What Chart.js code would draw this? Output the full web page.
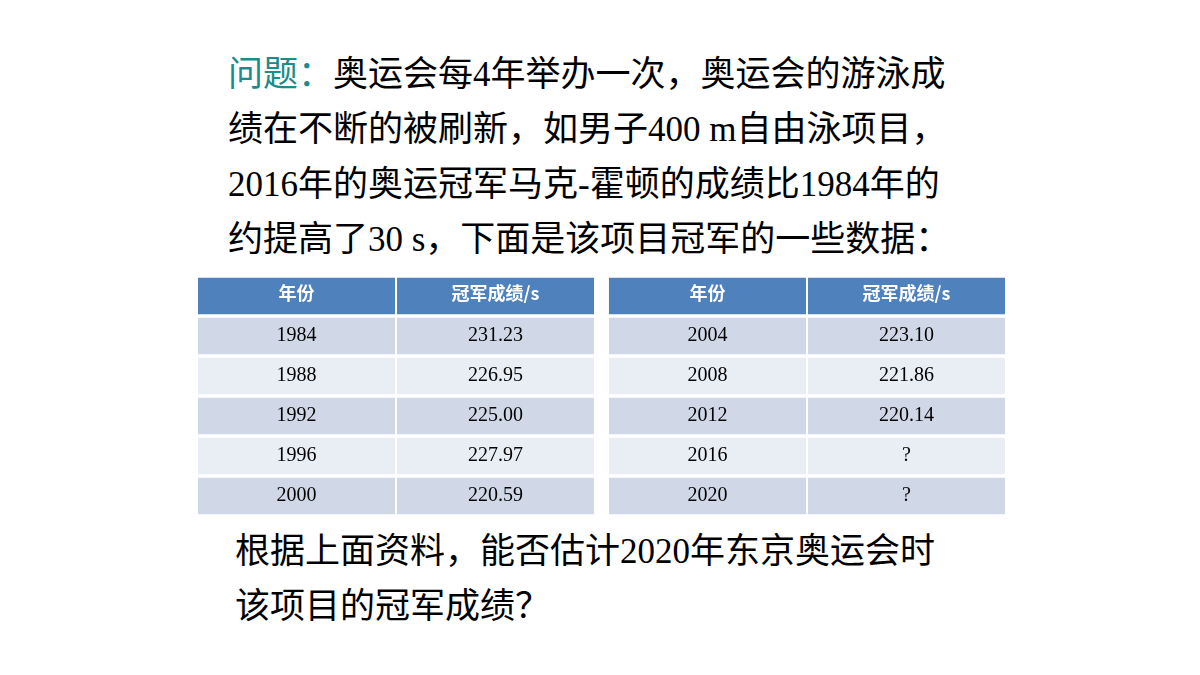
<!DOCTYPE html>
<html><head><meta charset="utf-8">
<script src="https://cdn.jsdelivr.net/npm/chart.js@4/dist/chart.umd.min.js"></script>
<style>
body{margin:0;width:1200px;height:675px;background:#fff;position:relative;overflow:hidden;}
.p{position:absolute;left:228px;font-size:35px;color:#000;line-height:55px;top:47px;width:800px;font-family:"Liberation Serif","Noto Sans CJK SC",serif;white-space:nowrap;}
.p span.h{color:#1a8c8c}
.q{position:absolute;left:235px;top:524px;font-size:35px;line-height:55px;font-family:"Liberation Serif","Noto Sans CJK SC",serif;white-space:nowrap;}
#wrap{position:absolute;left:197px;top:276px;width:809px;height:240px;}
</style></head><body>
<div class="p"><span class="h">问题：</span>奥运会每4年举办一次，奥运会的游泳成<br>绩在不断的被刷新，如男子400 m自由泳项目，<br>2016年的奥运冠军马克-霍顿的成绩比1984年的<br>约提高了30 s，下面是该项目冠军的一些数据：</div>
<div id="wrap"><canvas id="c"></canvas></div>
<div class="q">根据上面资料，能否估计2020年东京奥运会时<br>该项目的冠军成绩？</div>
<script>
const headers = ["年份","冠军成绩/s","年份","冠军成绩/s"];
const yearsA = ["1984","1988","1992","1996","2000"];
const timesA = ["231.23","226.95","225.00","227.97","220.59"];
const yearsB = ["2004","2008","2012","2016","2020"];
const timesB = ["223.10","221.86","220.14","?","?"];
const rows = ["h","r1","r2","r3","r4","r5"];
const colSpans = [[0,1],[1,2],[2.065,3.065],[3.065,4.065]];
const colTexts = [yearsA,timesA,yearsB,timesB];
const rowColor = i => i===0 ? "#4f81bd" : (i%2===1 ? "#d0d8e8" : "#e9edf4");
const datasets = colSpans.map((span,ci)=>({
  data: rows.map(()=>span),
  texts: [headers[ci]].concat(colTexts[ci]),
  backgroundColor: rows.map((r,i)=>rowColor(i)),
  borderColor:"#ffffff", borderWidth:{left:1,right:1,top:0,bottom:0}, borderSkipped:false,
  grouped:false, barPercentage:1, categoryPercentage:0.93
}));
const textPlugin={id:"t",afterDatasetsDraw(chart){
  const ctx=chart.ctx;
  chart.data.datasets.forEach((ds,di)=>{
    chart.getDatasetMeta(di).data.forEach((el,i)=>{
      ctx.save();
      ctx.textAlign="center";ctx.textBaseline="middle";
      if(i===0){ctx.fillStyle="#fff";ctx.font='bold 18px "Noto Sans CJK SC","Liberation Sans",sans-serif';}
      else{ctx.fillStyle="#000";ctx.font='20px "Liberation Serif",serif';}
      ctx.fillText(ds.texts[i],(el.base+el.x)/2,el.y-(i===0?3:0));
      ctx.restore();
    });
  });
}};
new Chart(document.getElementById("c"),{
  type:"bar",
  data:{labels:rows,datasets},
  options:{indexAxis:"y",responsive:true,maintainAspectRatio:false,animation:false,
    layout:{padding:0},
    plugins:{legend:{display:false},tooltip:{enabled:false}},
    scales:{x:{type:"linear",min:0,max:4.065,display:false},y:{display:false}}},
  plugins:[textPlugin]
});
</script>
</body></html>
